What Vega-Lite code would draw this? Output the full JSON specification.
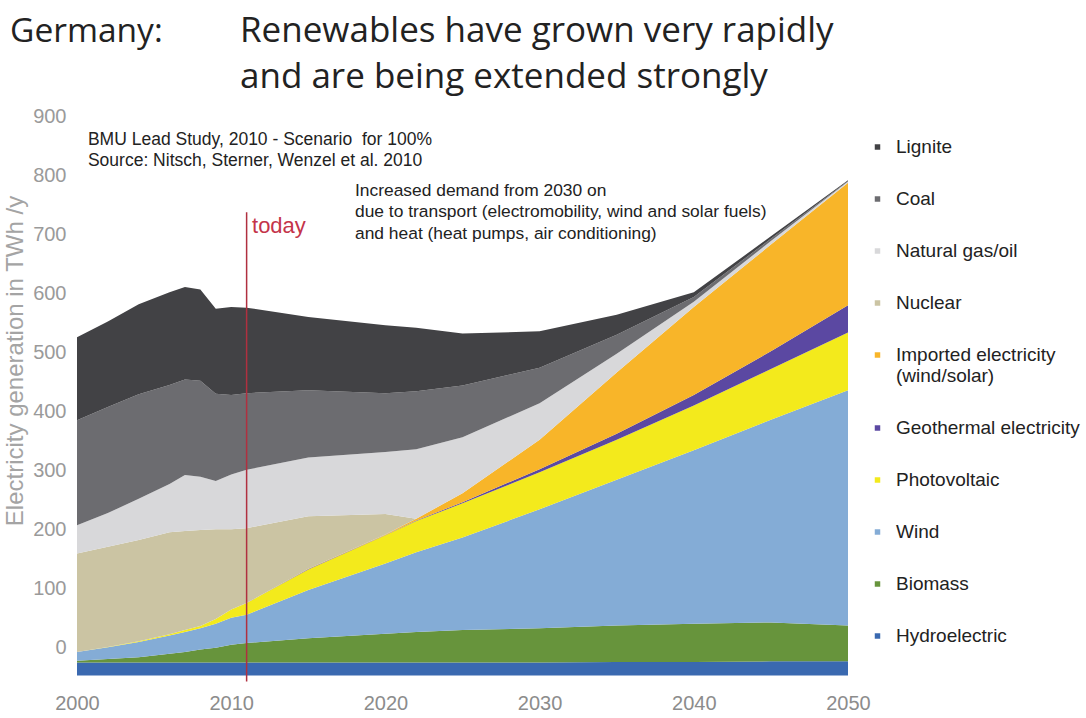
{
  "$schema": "https://vega.github.io/schema/vega-lite/v6.json",
  "width": 771,
  "height": 560,
  "autosize": {"type": "none"},
  "padding": {"left": 77, "top": 115.5, "right": 238, "bottom": 42.5},
  "background": "white",
  "config": {"view": {"stroke": null}, "font": "Liberation Sans"},
  "layer": [
    {
      "data": {"values": [
        {"year": 2000, "source": "Hydroelectric", "twh": 22}, {"year": 2000, "source": "Biomass", "twh": 3}, {"year": 2000, "source": "Wind", "twh": 15}, {"year": 2000, "source": "Photovoltaic", "twh": 0}, {"year": 2000, "source": "Geothermal electricity", "twh": 0}, {"year": 2000, "source": "Imported electricity (wind/solar)", "twh": 0}, {"year": 2000, "source": "Nuclear", "twh": 167}, {"year": 2000, "source": "Natural gas/oil", "twh": 48}, {"year": 2000, "source": "Coal", "twh": 178}, {"year": 2000, "source": "Lignite", "twh": 141},
        {"year": 2002, "source": "Hydroelectric", "twh": 22}, {"year": 2002, "source": "Biomass", "twh": 6}, {"year": 2002, "source": "Wind", "twh": 20}, {"year": 2002, "source": "Photovoltaic", "twh": 0.5}, {"year": 2002, "source": "Geothermal electricity", "twh": 0}, {"year": 2002, "source": "Imported electricity (wind/solar)", "twh": 0}, {"year": 2002, "source": "Nuclear", "twh": 170}, {"year": 2002, "source": "Natural gas/oil", "twh": 57}, {"year": 2002, "source": "Coal", "twh": 180}, {"year": 2002, "source": "Lignite", "twh": 145},
        {"year": 2004, "source": "Hydroelectric", "twh": 22}, {"year": 2004, "source": "Biomass", "twh": 9}, {"year": 2004, "source": "Wind", "twh": 26}, {"year": 2004, "source": "Photovoltaic", "twh": 1}, {"year": 2004, "source": "Geothermal electricity", "twh": 0}, {"year": 2004, "source": "Imported electricity (wind/solar)", "twh": 0}, {"year": 2004, "source": "Nuclear", "twh": 172}, {"year": 2004, "source": "Natural gas/oil", "twh": 70}, {"year": 2004, "source": "Coal", "twh": 177}, {"year": 2004, "source": "Lignite", "twh": 153},
        {"year": 2006, "source": "Hydroelectric", "twh": 22}, {"year": 2006, "source": "Biomass", "twh": 15}, {"year": 2006, "source": "Wind", "twh": 31}, {"year": 2006, "source": "Photovoltaic", "twh": 2}, {"year": 2006, "source": "Geothermal electricity", "twh": 0}, {"year": 2006, "source": "Imported electricity (wind/solar)", "twh": 0}, {"year": 2006, "source": "Nuclear", "twh": 173}, {"year": 2006, "source": "Natural gas/oil", "twh": 82}, {"year": 2006, "source": "Coal", "twh": 168}, {"year": 2006, "source": "Lignite", "twh": 157},
        {"year": 2007, "source": "Hydroelectric", "twh": 22}, {"year": 2007, "source": "Biomass", "twh": 18}, {"year": 2007, "source": "Wind", "twh": 34}, {"year": 2007, "source": "Photovoltaic", "twh": 3}, {"year": 2007, "source": "Geothermal electricity", "twh": 0}, {"year": 2007, "source": "Imported electricity (wind/solar)", "twh": 0}, {"year": 2007, "source": "Nuclear", "twh": 168}, {"year": 2007, "source": "Natural gas/oil", "twh": 95}, {"year": 2007, "source": "Coal", "twh": 162}, {"year": 2007, "source": "Lignite", "twh": 157},
        {"year": 2008, "source": "Hydroelectric", "twh": 22}, {"year": 2008, "source": "Biomass", "twh": 22}, {"year": 2008, "source": "Wind", "twh": 36}, {"year": 2008, "source": "Photovoltaic", "twh": 4}, {"year": 2008, "source": "Geothermal electricity", "twh": 0}, {"year": 2008, "source": "Imported electricity (wind/solar)", "twh": 0}, {"year": 2008, "source": "Nuclear", "twh": 163}, {"year": 2008, "source": "Natural gas/oil", "twh": 90}, {"year": 2008, "source": "Coal", "twh": 163}, {"year": 2008, "source": "Lignite", "twh": 155},
        {"year": 2009, "source": "Hydroelectric", "twh": 22}, {"year": 2009, "source": "Biomass", "twh": 25}, {"year": 2009, "source": "Wind", "twh": 41}, {"year": 2009, "source": "Photovoltaic", "twh": 8}, {"year": 2009, "source": "Geothermal electricity", "twh": 0}, {"year": 2009, "source": "Imported electricity (wind/solar)", "twh": 0}, {"year": 2009, "source": "Nuclear", "twh": 152}, {"year": 2009, "source": "Natural gas/oil", "twh": 82}, {"year": 2009, "source": "Coal", "twh": 148}, {"year": 2009, "source": "Lignite", "twh": 144},
        {"year": 2010, "source": "Hydroelectric", "twh": 22}, {"year": 2010, "source": "Biomass", "twh": 30}, {"year": 2010, "source": "Wind", "twh": 46}, {"year": 2010, "source": "Photovoltaic", "twh": 14}, {"year": 2010, "source": "Geothermal electricity", "twh": 0}, {"year": 2010, "source": "Imported electricity (wind/solar)", "twh": 0}, {"year": 2010, "source": "Nuclear", "twh": 136}, {"year": 2010, "source": "Natural gas/oil", "twh": 93}, {"year": 2010, "source": "Coal", "twh": 135}, {"year": 2010, "source": "Lignite", "twh": 149},
        {"year": 2011, "source": "Hydroelectric", "twh": 22}, {"year": 2011, "source": "Biomass", "twh": 33}, {"year": 2011, "source": "Wind", "twh": 48}, {"year": 2011, "source": "Photovoltaic", "twh": 20}, {"year": 2011, "source": "Geothermal electricity", "twh": 0}, {"year": 2011, "source": "Imported electricity (wind/solar)", "twh": 0}, {"year": 2011, "source": "Nuclear", "twh": 127}, {"year": 2011, "source": "Natural gas/oil", "twh": 99}, {"year": 2011, "source": "Coal", "twh": 130}, {"year": 2011, "source": "Lignite", "twh": 145},
        {"year": 2015, "source": "Hydroelectric", "twh": 22}, {"year": 2015, "source": "Biomass", "twh": 41}, {"year": 2015, "source": "Wind", "twh": 82}, {"year": 2015, "source": "Photovoltaic", "twh": 35}, {"year": 2015, "source": "Geothermal electricity", "twh": 0.5}, {"year": 2015, "source": "Imported electricity (wind/solar)", "twh": 0.5}, {"year": 2015, "source": "Nuclear", "twh": 89}, {"year": 2015, "source": "Natural gas/oil", "twh": 100}, {"year": 2015, "source": "Coal", "twh": 114}, {"year": 2015, "source": "Lignite", "twh": 124},
        {"year": 2020, "source": "Hydroelectric", "twh": 22}, {"year": 2020, "source": "Biomass", "twh": 49}, {"year": 2020, "source": "Wind", "twh": 119}, {"year": 2020, "source": "Photovoltaic", "twh": 48}, {"year": 2020, "source": "Geothermal electricity", "twh": 0.5}, {"year": 2020, "source": "Imported electricity (wind/solar)", "twh": 0.5}, {"year": 2020, "source": "Nuclear", "twh": 35}, {"year": 2020, "source": "Natural gas/oil", "twh": 105}, {"year": 2020, "source": "Coal", "twh": 100}, {"year": 2020, "source": "Lignite", "twh": 115},
        {"year": 2022, "source": "Hydroelectric", "twh": 22}, {"year": 2022, "source": "Biomass", "twh": 52}, {"year": 2022, "source": "Wind", "twh": 135}, {"year": 2022, "source": "Photovoltaic", "twh": 53}, {"year": 2022, "source": "Geothermal electricity", "twh": 1}, {"year": 2022, "source": "Imported electricity (wind/solar)", "twh": 3}, {"year": 2022, "source": "Nuclear", "twh": 0}, {"year": 2022, "source": "Natural gas/oil", "twh": 118}, {"year": 2022, "source": "Coal", "twh": 98}, {"year": 2022, "source": "Lignite", "twh": 108},
        {"year": 2025, "source": "Hydroelectric", "twh": 22}, {"year": 2025, "source": "Biomass", "twh": 55}, {"year": 2025, "source": "Wind", "twh": 157}, {"year": 2025, "source": "Photovoltaic", "twh": 58}, {"year": 2025, "source": "Geothermal electricity", "twh": 2}, {"year": 2025, "source": "Imported electricity (wind/solar)", "twh": 15}, {"year": 2025, "source": "Nuclear", "twh": 0}, {"year": 2025, "source": "Natural gas/oil", "twh": 95}, {"year": 2025, "source": "Coal", "twh": 88}, {"year": 2025, "source": "Lignite", "twh": 88},
        {"year": 2030, "source": "Hydroelectric", "twh": 22}, {"year": 2030, "source": "Biomass", "twh": 58}, {"year": 2030, "source": "Wind", "twh": 202}, {"year": 2030, "source": "Photovoltaic", "twh": 63}, {"year": 2030, "source": "Geothermal electricity", "twh": 5}, {"year": 2030, "source": "Imported electricity (wind/solar)", "twh": 50}, {"year": 2030, "source": "Nuclear", "twh": 0}, {"year": 2030, "source": "Natural gas/oil", "twh": 62}, {"year": 2030, "source": "Coal", "twh": 60}, {"year": 2030, "source": "Lignite", "twh": 62},
        {"year": 2035, "source": "Hydroelectric", "twh": 23}, {"year": 2035, "source": "Biomass", "twh": 62}, {"year": 2035, "source": "Wind", "twh": 247}, {"year": 2035, "source": "Photovoltaic", "twh": 68}, {"year": 2035, "source": "Geothermal electricity", "twh": 10}, {"year": 2035, "source": "Imported electricity (wind/solar)", "twh": 104}, {"year": 2035, "source": "Nuclear", "twh": 0}, {"year": 2035, "source": "Natural gas/oil", "twh": 32}, {"year": 2035, "source": "Coal", "twh": 32}, {"year": 2035, "source": "Lignite", "twh": 34},
        {"year": 2040, "source": "Hydroelectric", "twh": 23}, {"year": 2040, "source": "Biomass", "twh": 65}, {"year": 2040, "source": "Wind", "twh": 294}, {"year": 2040, "source": "Photovoltaic", "twh": 76}, {"year": 2040, "source": "Geothermal electricity", "twh": 18}, {"year": 2040, "source": "Imported electricity (wind/solar)", "twh": 149}, {"year": 2040, "source": "Nuclear", "twh": 0}, {"year": 2040, "source": "Natural gas/oil", "twh": 9}, {"year": 2040, "source": "Coal", "twh": 8}, {"year": 2040, "source": "Lignite", "twh": 8},
        {"year": 2045, "source": "Hydroelectric", "twh": 24}, {"year": 2045, "source": "Biomass", "twh": 66}, {"year": 2045, "source": "Wind", "twh": 344}, {"year": 2045, "source": "Photovoltaic", "twh": 86}, {"year": 2045, "source": "Geothermal electricity", "twh": 30}, {"year": 2045, "source": "Imported electricity (wind/solar)", "twh": 181}, {"year": 2045, "source": "Nuclear", "twh": 0}, {"year": 2045, "source": "Natural gas/oil", "twh": 6}, {"year": 2045, "source": "Coal", "twh": 4}, {"year": 2045, "source": "Lignite", "twh": 4},
        {"year": 2050, "source": "Hydroelectric", "twh": 24}, {"year": 2050, "source": "Biomass", "twh": 61}, {"year": 2050, "source": "Wind", "twh": 399}, {"year": 2050, "source": "Photovoltaic", "twh": 98}, {"year": 2050, "source": "Geothermal electricity", "twh": 46}, {"year": 2050, "source": "Imported electricity (wind/solar)", "twh": 208}, {"year": 2050, "source": "Nuclear", "twh": 0}, {"year": 2050, "source": "Natural gas/oil", "twh": 2}, {"year": 2050, "source": "Coal", "twh": 1}, {"year": 2050, "source": "Lignite", "twh": 1}
      ]},
      "transform": [
        {"lookup": "source", "from": {"data": {"values": [
          {"source": "Hydroelectric", "layer": 1}, {"source": "Biomass", "layer": 2}, {"source": "Wind", "layer": 3}, {"source": "Photovoltaic", "layer": 4}, {"source": "Geothermal electricity", "layer": 5}, {"source": "Imported electricity (wind/solar)", "layer": 6}, {"source": "Nuclear", "layer": 7}, {"source": "Natural gas/oil", "layer": 8}, {"source": "Coal", "layer": 9}, {"source": "Lignite", "layer": 10}
        ]}, "key": "source", "fields": ["layer"]}}
      ],
      "mark": {"type": "area", "opacity": 1, "interpolate": "linear"},
      "encoding": {
        "x": {
          "field": "year", "type": "quantitative",
          "scale": {"domain": [2000, 2050], "nice": false, "zero": false},
          "axis": {"values": [2000, 2010, 2020, 2030, 2040, 2050], "format": "d", "title": null, "domain": false, "ticks": false, "grid": false, "labelFlush": false, "labelFontSize": 20, "labelColor": "#8c8c8c", "labelPadding": 18, "labelFont": "Liberation Sans"}
        },
        "y": {
          "field": "twh", "type": "quantitative", "stack": "zero",
          "scale": {"domain": [0, 950], "nice": false, "zero": true},
          "axis": {"values": [47.5, 147.5, 247.5, 347.5, 447.5, 547.5, 647.5, 747.5, 847.5, 947.5], "labelExpr": "format(datum.value - 47.5, 'd')", "title": "Electricity generation  in TWh /y", "domain": false, "ticks": false, "grid": false, "labelFlush": false, "labelFontSize": 20, "labelColor": "#9a9a9a", "labelPadding": 11, "labelFont": "Liberation Sans", "titleFont": "Liberation Sans", "titleFontSize": 24, "titleColor": "#a4a4a4", "titleFontWeight": "normal", "titleX": -62, "titleY": 245, "titleAlign": "center", "titleBaseline": "middle"}
        },
        "order": {"field": "layer", "type": "quantitative", "sort": "ascending"},
        "color": {
          "field": "source", "type": "nominal",
          "scale": {
            "domain": ["Lignite", "Coal", "Natural gas/oil", "Nuclear", "Imported electricity (wind/solar)", "Geothermal electricity", "Photovoltaic", "Wind", "Biomass", "Hydroelectric"],
            "range": ["#424245", "#6c6c70", "#d8d8da", "#cbc4a3", "#f8b529", "#5b48a2", "#f3ea1c", "#84acd6", "#67943c", "#3a69b0"]
          },
          "legend": {
            "title": null, "orient": "none", "legendX": 791, "legendY": 22, "padding": 0,
            "symbolType": "square", "symbolSize": 30, "symbolStrokeWidth": 0,
            "labelFont": "Liberation Sans", "labelFontSize": 19, "labelColor": "#222222", "labelOffset": 9, "labelLimit": 300,
            "rowPadding": 32,
            "labelExpr": "datum.label == 'Imported electricity (wind/solar)' ? ['Imported electricity', '(wind/solar)'] : datum.label"
          }
        }
      }
    },
    {
      "data": {"values": [{}]},
      "mark": {"type": "rule", "color": "#b03040", "strokeWidth": 1.5, "clip": false},
      "encoding": {
        "x": {"datum": 2011, "type": "quantitative"},
        "y": {"datum": 786, "type": "quantitative"},
        "y2": {"datum": -10}
      }
    },
    {
      "data": {"values": [{"label": "today"}]},
      "mark": {"type": "text", "align": "left", "baseline": "middle", "font": "Liberation Sans", "fontSize": 22, "color": "#c4344a"},
      "encoding": {
        "x": {"datum": 2011.35, "type": "quantitative"},
        "y": {"datum": 762, "type": "quantitative"},
        "text": {"field": "label"}
      }
    },
    {
      "data": {"values": [{"label": "BMU Lead Study, 2010 - Scenario\u00a0 for 100%\nSource: Nitsch, Sterner, Wenzel et al. 2010"}]},
      "mark": {"type": "text", "align": "left", "baseline": "middle", "font": "Liberation Sans", "fontSize": 17.5, "color": "#222222", "lineBreak": "\n", "lineHeight": 20.5},
      "encoding": {
        "x": {"datum": 2000.71, "type": "quantitative"},
        "y": {"datum": 908, "type": "quantitative"},
        "text": {"field": "label"}
      }
    },
    {
      "data": {"values": [{"label": "Increased demand from 2030 on\ndue to transport (electromobility, wind and solar fuels)\nand heat (heat pumps, air conditioning)"}]},
      "mark": {"type": "text", "align": "left", "baseline": "middle", "font": "Liberation Sans", "fontSize": 17.4, "color": "#222222", "lineBreak": "\n", "lineHeight": 21.5},
      "encoding": {
        "x": {"datum": 2018.03, "type": "quantitative"},
        "y": {"datum": 822, "type": "quantitative"},
        "text": {"field": "label"}
      }
    },
    {
      "data": {"values": [{"label": "Germany:"}]},
      "mark": {"type": "text", "align": "left", "baseline": "alphabetic", "font": "Open Sans", "fontSize": 33.5, "color": "#222222"},
      "encoding": {
        "x": {"datum": 1995.66, "type": "quantitative"},
        "y": {"datum": 1074.7, "type": "quantitative"},
        "text": {"field": "label"}
      }
    },
    {
      "data": {"values": [{"label": "Renewables have grown very rapidly\nand are being extended strongly"}]},
      "mark": {"type": "text", "align": "left", "baseline": "alphabetic", "font": "Open Sans", "fontSize": 35, "color": "#222222", "lineBreak": "\n", "lineHeight": 46},
      "encoding": {
        "x": {"datum": 2010.57, "type": "quantitative"},
        "y": {"datum": 1074.7, "type": "quantitative"},
        "text": {"field": "label"}
      }
    }
  ]
}
